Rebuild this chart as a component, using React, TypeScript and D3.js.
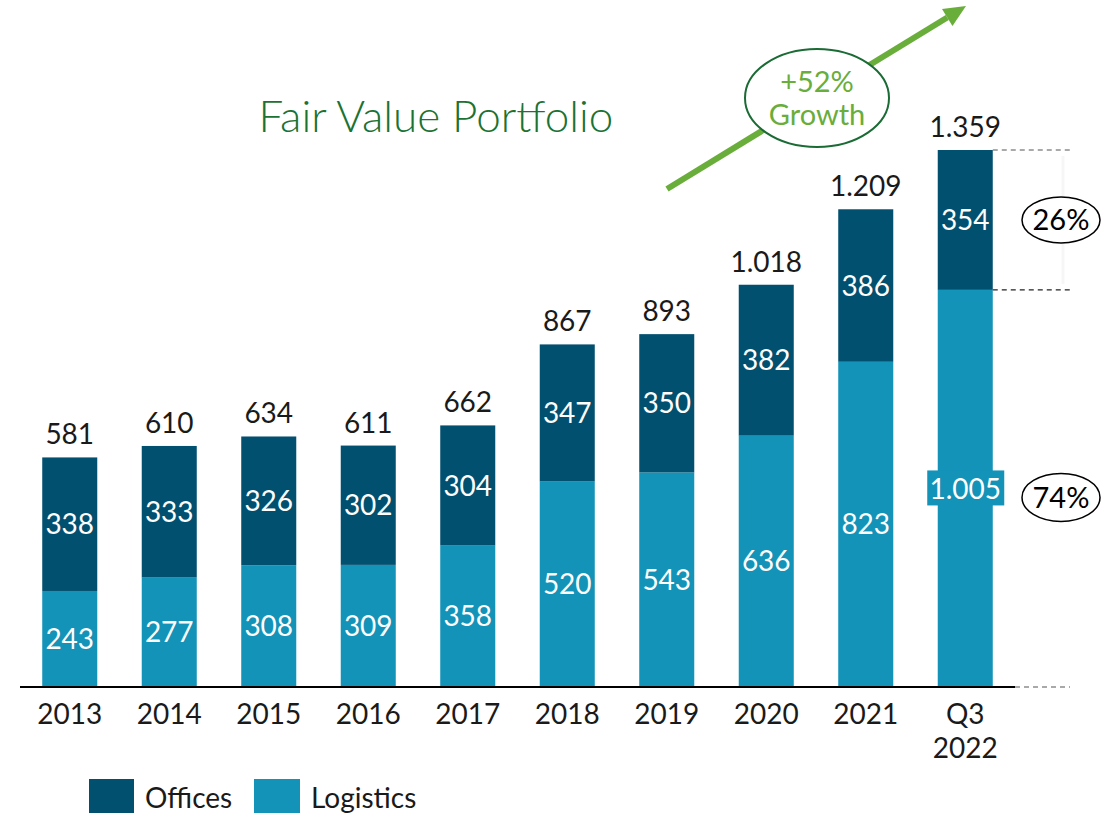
import React from "react";
import * as d3 from "d3";

const categories = ["2013", "2014", "2015", "2016", "2017", "2018", "2019", "2020", "2021", "Q3\n2022"];
const logistics = [243, 277, 308, 309, 358, 520, 543, 636, 823, 1005];
const offices = [338, 333, 326, 302, 304, 347, 350, 382, 386, 354];
const totals = [581, 610, 634, 611, 662, 867, 893, 1018, 1209, 1359];
const seriesNames = ["Offices", "Logistics"];
const shareLabels = ["26%", "74%"];
const growthLabel = ["+52%", "Growth"];
const title = "Fair Value Portfolio";

const C_OFF = "#02506F";
const C_LOG = "#1393B8";
const FONT = "Lato, 'Open Sans', sans-serif";

const locale = d3.formatLocale({ decimal: ",", thousands: ".", grouping: [3], currency: ["", "€"] });
const fmt = locale.format(",d");

export default function App() {
  const W = 1116, H = 814;
  const x = d3.scaleBand<string>().domain(categories).range([20, 1015]).paddingInner(0.447).paddingOuter(0.2235);
  const y = d3.scaleLinear().domain([0, 1359]).range([687, 150]);
  const bw = x.bandwidth();
  const last = categories.length - 1;
  const lastX = x(categories[last])!;
  const lastTop = y(totals[last]);
  const lastMid = y(logistics[last]);

  const ax0 = 667, ay0 = 189, ax1 = 966, ay1 = 6;
  const dx = ax1 - ax0, dy = ay1 - ay0;
  const len = Math.hypot(dx, dy);
  const ux = dx / len, uy = dy / len;
  const hl = 22, hw = 10;
  const bx = ax1 - ux * hl, by = ay1 - uy * hl;
  const head = `${ax1},${ay1} ${bx - uy * hw},${by + ux * hw} ${bx + uy * hw},${by - ux * hw}`;

  return (
    <svg width={W} height={H} style={{ position: "absolute", left: 0, top: 0, background: "#fff" }} fontFamily={FONT}>
      <text x={436} y={132} textAnchor="middle" fontSize={44} fontWeight={300} fill="#1B7232">{title}</text>

      {categories.map((c, i) => {
        const x0 = x(c)!;
        const cx = x0 + bw / 2;
        const yLogTop = y(logistics[i]);
        const yTop = y(logistics[i] + offices[i]);
        const isLast = i === last;
        const logLabelY = (yLogTop + y(0)) / 2;
        return (
          <g key={c}>
            <rect x={x0} y={yLogTop} width={bw} height={y(0) - yLogTop} fill={C_LOG} />
            <rect x={x0} y={yTop} width={bw} height={yLogTop - yTop} fill={C_OFF} />
            {isLast && <rect x={cx - 38} y={logLabelY - 18} width={77} height={35} fill={C_LOG} />}
            <text x={cx} y={logLabelY} dy="0.36em" textAnchor="middle" fontSize={28} fill="#fff">{fmt(logistics[i])}</text>
            <text x={cx} y={(yTop + yLogTop) / 2} dy="0.36em" textAnchor="middle" fontSize={28} fill="#fff">{fmt(offices[i])}</text>
            <text x={cx} y={yTop - 13} textAnchor="middle" fontSize={28} fill="#1a1a1a">{fmt(totals[i])}</text>
            {c.split("\n").map((t, k) => (
              <text key={k} x={cx} y={724 + k * 34} textAnchor="middle" fontSize={28} fill="#1a1a1a">{t}</text>
            ))}
          </g>
        );
      })}

      <line x1={20} x2={1015} y1={687} y2={687} stroke="#000" strokeWidth={2} />
      <line x1={1015} x2={1070} y1={687} y2={687} stroke="#555" strokeWidth={1.2} strokeDasharray="5,4" />
      <line x1={lastX + bw} x2={1070} y1={lastTop} y2={lastTop} stroke="#555" strokeWidth={1.2} strokeDasharray="5,4" />
      <line x1={lastX + bw} x2={1070} y1={lastMid} y2={lastMid} stroke="#222" strokeWidth={1.2} strokeDasharray="5,4" />
      <line x1={1063} x2={1063} y1={lastTop + 6} y2={lastMid - 6} stroke="#f6f6f6" strokeWidth={3} />

      <ellipse cx={1061} cy={(lastTop + lastMid) / 2} rx={39} ry={23} fill="#fff" stroke="#000" strokeWidth={1.5} />
      <text x={1061} y={(lastTop + lastMid) / 2} dy="0.36em" textAnchor="middle" fontSize={29} fill="#000">{shareLabels[0]}</text>
      <ellipse cx={1061} cy={(lastMid + y(0)) / 2 + 9} rx={39} ry={24} fill="#fff" stroke="#000" strokeWidth={1.5} />
      <text x={1061} y={(lastMid + y(0)) / 2 + 9} dy="0.36em" textAnchor="middle" fontSize={29} fill="#000">{shareLabels[1]}</text>

      <line x1={ax0} y1={ay0} x2={bx} y2={by} stroke="#69AD3B" strokeWidth={6} />
      <polygon points={head} fill="#69AD3B" />
      <ellipse cx={817} cy={98} rx={72} ry={49} fill="#fff" stroke="#1B6B35" strokeWidth={2} />
      <text x={817} y={82} dy="0.36em" textAnchor="middle" fontSize={29} fill="#69AD3B">{growthLabel[0]}</text>
      <text x={817} y={115} dy="0.36em" textAnchor="middle" fontSize={29} fill="#69AD3B">{growthLabel[1]}</text>

      <rect x={89} y={779} width={45} height={34} fill={C_OFF} />
      <text x={145} y={808} fontSize={28} fill="#1a1a1a">{seriesNames[0]}</text>
      <rect x={254} y={779} width={46} height={34} fill={C_LOG} />
      <text x={311} y={808} fontSize={28} fill="#1a1a1a">{seriesNames[1]}</text>
    </svg>
  );
}
